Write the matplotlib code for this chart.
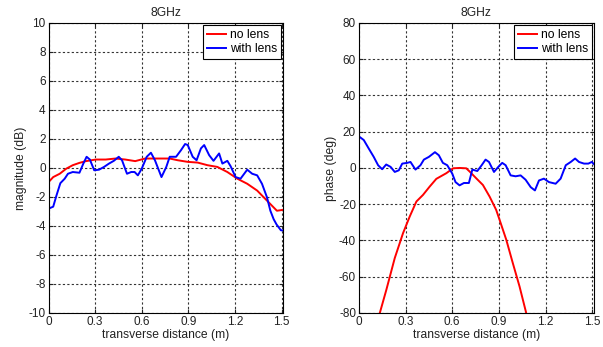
import matplotlib
matplotlib.use("Agg")
import matplotlib.pyplot as plt

plt.rcParams['font.family'] = ['Liberation Sans', 'DejaVu Sans']
plt.rcParams['axes.unicode_minus'] = False

# Magnitude (dB)
mag_nolens_x = [0, 0.03, 0.072, 0.114, 0.156, 0.199, 0.241, 0.304, 0.368, 0.431, 0.494, 0.558,
                0.621, 0.706, 0.78, 0.832, 0.896, 0.96, 1.023, 1.087, 1.151, 1.215, 1.279,
                1.343, 1.385, 1.428, 1.47, 1.502, 1.511]
mag_nolens_y = [-0.98, -0.63, -0.4, -0.05, 0.19, 0.35, 0.47, 0.58, 0.58, 0.65, 0.58, 0.47,
                0.65, 0.65, 0.65, 0.53, 0.42, 0.37, 0.19, 0.07, -0.28, -0.74, -1.09,
                -1.56, -2.02, -2.49, -2.95, -2.9, -2.88]
mag_lens_x = [0, 0.008, 0.03, 0.051, 0.076, 0.104, 0.125, 0.156, 0.199, 0.224, 0.245, 0.266,
              0.294, 0.325, 0.357, 0.389, 0.42, 0.452, 0.473, 0.505, 0.532, 0.554, 0.575,
              0.6, 0.632, 0.659, 0.685, 0.727, 0.758, 0.78, 0.821, 0.853, 0.879, 0.896,
              0.928, 0.953, 0.981, 1.002, 1.034, 1.062, 1.098, 1.119, 1.151, 1.172, 1.204,
              1.236, 1.279, 1.311, 1.343, 1.374, 1.406, 1.428, 1.449, 1.468, 1.496, 1.511]
mag_lens_y = [-2.75, -2.77, -2.67, -1.9, -1.05, -0.74, -0.4, -0.28, -0.33, 0.3, 0.77, 0.58,
              -0.16, -0.12, 0.07, 0.3, 0.49, 0.77, 0.53, -0.4, -0.28, -0.28, -0.51,
              -0.05, 0.77, 1.05, 0.53, -0.63, 0.07, 0.77, 0.77, 1.23, 1.65, 1.58,
              0.77, 0.53, 1.35, 1.58, 0.88, 0.49, 1.0, 0.3, 0.49, 0.12, -0.63,
              -0.74, -0.12, -0.4, -0.51, -1.09, -2.02, -2.95, -3.53, -3.9, -4.3, -4.3]

# Phase (deg)
ph_nolens_x = [0.135, 0.177, 0.231, 0.284, 0.327, 0.37, 0.412, 0.455, 0.498, 0.562, 0.605, 0.647,
               0.69, 0.712, 0.754, 0.797, 0.84, 0.882, 0.904, 0.947, 0.989, 1.032, 1.075]
ph_nolens_y = [-80, -67.2, -49.7, -36, -26.8, -18.5, -14.9, -10.3, -6, -2.9, -0.2, 0,
               -0.2, -2, -5.7, -9.4, -15.8, -23.1, -28.6, -39.6, -52.5, -65.3, -80]
ph_lens_x = [0, 0.004, 0.032, 0.064, 0.096, 0.124, 0.15, 0.176, 0.204, 0.231, 0.257, 0.279,
             0.311, 0.332, 0.364, 0.396, 0.418, 0.45, 0.489, 0.514, 0.54, 0.568, 0.6,
             0.621, 0.647, 0.675, 0.707, 0.729, 0.761, 0.789, 0.814, 0.836, 0.868, 0.896,
             0.921, 0.943, 0.975, 1.007, 1.039, 1.071, 1.104, 1.131, 1.157, 1.189, 1.221,
             1.264, 1.296, 1.329, 1.361, 1.389, 1.414, 1.446, 1.474, 1.496, 1.511]
ph_lens_y = [17.0, 17.2, 15.4, 10.7, 6.1, 1.5, -0.7, 1.9, 0.6, -2.2, -1.3, 2.4,
             2.8, 3.3, -0.9, 1.5, 4.6, 6.1, 8.7, 7.0, 2.8, 1.5, -3.1,
             -7.8, -9.6, -8.3, -8.3, -0.9, -1.7, 1.5, 4.6, 3.3, -2.2, 0.6,
             2.8, 1.5, -4.1, -4.6, -4.1, -6.5, -10.6, -12.4, -6.9, -5.9, -7.8,
             -8.7, -5.9, 1.5, 3.3, 5.2, 3.3, 2.4, 2.4, 3.3, 2.0]

xticks = [0, 0.3, 0.6, 0.9, 1.2, 1.5]
xticklabels = ['0', '0.3', '0.6', '0.9', '1.2', '1.5']
mag_ticks = list(range(-10, 11, 2))
ph_ticks = list(range(-80, 81, 20))

fig = plt.figure(figsize=(6.03, 3.47), dpi=100)
ax1 = fig.add_axes([0.0805, 0.098, 0.389, 0.836])
ax2 = fig.add_axes([0.595, 0.098, 0.39, 0.836])

def style(ax, yticks, ylabel):
    ax.set_xlim(0, 1.51)
    ax.set_xticks(xticks)
    ax.set_xticklabels(xticklabels)
    ax.set_yticks(yticks)
    ax.set_ylim(yticks[0], yticks[-1])
    ax.grid(True, linestyle=(0, (2, 2)), color='#333333', linewidth=0.8)
    ax.tick_params(direction='in', labelsize=8.5, length=3, pad=2, colors='#222222',
                   top=True, right=True)
    ax.set_xlabel('transverse distance (m)', fontsize=8.7, labelpad=1, color='#222222')
    ax.set_ylabel(ylabel, fontsize=8.7, labelpad=1, color='#222222')
    ax.set_title('8GHz', fontsize=8.7, pad=5, color='#222222')
    for s in ax.spines.values():
        s.set_linewidth(0.8)
    leg = ax.legend(loc='upper right', fontsize=8.7, handlelength=1.6, handletextpad=0.3,
                    borderpad=0.3, labelspacing=0.2, fancybox=False, framealpha=1,
                    borderaxespad=0.2)
    leg.get_frame().set_edgecolor('black')
    leg.get_frame().set_linewidth(0.8)

ax1.plot(mag_nolens_x, mag_nolens_y, color='red', lw=1.4, label='no lens')
ax1.plot(mag_lens_x, mag_lens_y, color='blue', lw=1.4, label='with lens')
style(ax1, mag_ticks, 'magnitude (dB)')

ax2.plot(ph_nolens_x, ph_nolens_y, color='red', lw=1.4, label='no lens')
ax2.plot(ph_lens_x, ph_lens_y, color='blue', lw=1.4, label='with lens')
style(ax2, ph_ticks, 'phase (deg)')

fig.savefig('out.png', dpi=100)
